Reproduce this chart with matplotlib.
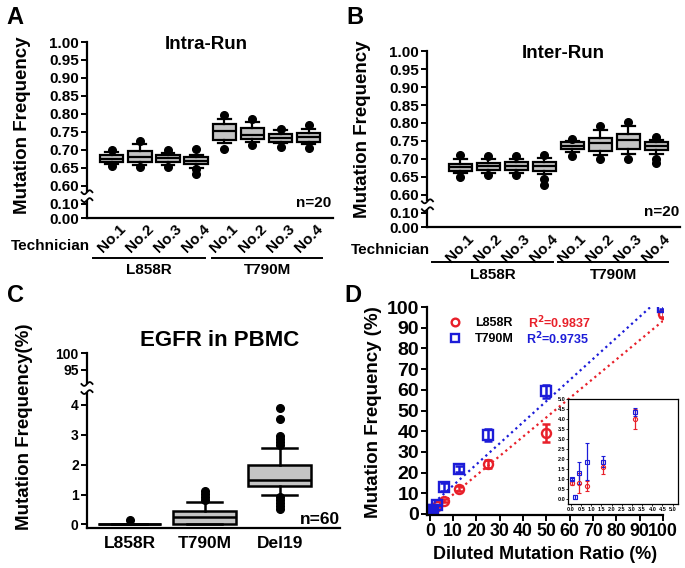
import numpy as np
import matplotlib.pyplot as plt
from matplotlib.patches import Rectangle
from matplotlib.transforms import blended_transform_factory

plt.rcParams['font.family'] = ['Liberation Sans', 'DejaVu Sans']
plt.rcParams['font.weight'] = 'bold'
plt.rcParams['axes.labelweight'] = 'bold'
plt.rcParams['axes.titleweight'] = 'bold'
plt.rcParams['axes.linewidth'] = 1.6

# ---- data ----
tech_labels = ['No.1', 'No.2', 'No.3', 'No.4'] * 2
groups = ['L858R', 'T790M']

# panel A: intra-run (4 technicians x L858R, T790M)
intra_lo = [0.660, 0.657, 0.657, 0.650, 0.718, 0.722, 0.718, 0.715]
intra_q1 = [0.667, 0.665, 0.667, 0.660, 0.728, 0.729, 0.722, 0.722]
intra_med = [0.675, 0.680, 0.676, 0.669, 0.752, 0.742, 0.734, 0.736]
intra_q3 = [0.686, 0.697, 0.685, 0.679, 0.771, 0.761, 0.744, 0.748]
intra_hi = [0.693, 0.716, 0.692, 0.687, 0.786, 0.778, 0.755, 0.759]
intra_fliers = [[0.700, 0.655], [0.724, 0.653], [0.700, 0.652], [0.702, 0.648, 0.632],
                [0.796, 0.702], [0.785, 0.714], [0.759, 0.708], [0.770, 0.704]]

# panel B: inter-run
inter_lo = [0.661, 0.660, 0.660, 0.659, 0.720, 0.710, 0.715, 0.713]
inter_q1 = [0.667, 0.668, 0.668, 0.667, 0.729, 0.722, 0.729, 0.724]
inter_med = [0.678, 0.680, 0.680, 0.680, 0.736, 0.743, 0.752, 0.736]
inter_q3 = [0.687, 0.690, 0.692, 0.692, 0.746, 0.759, 0.770, 0.747]
inter_hi = [0.701, 0.700, 0.700, 0.702, 0.749, 0.780, 0.793, 0.752]
inter_fliers = [[0.710, 0.650], [0.708, 0.655], [0.708, 0.655], [0.712, 0.645, 0.627],
                [0.756, 0.708], [0.791, 0.700], [0.803, 0.700], [0.761, 0.700, 0.690]]

# panel C: EGFR in PBMC (%)
pbmc_labels = ['L858R', 'T790M', 'Del19']
pbmc_lo = [0.0, 0.0, 0.99]
pbmc_q1 = [0.0, 0.0, 1.27]
pbmc_med = [0.0, 0.26, 1.49]
pbmc_q3 = [0.0, 0.46, 1.97]
pbmc_hi = [0.0, 0.76, 2.56]
pbmc_fliers = [[0.15], [0.82, 0.90, 1.02, 1.12],
               [2.67, 2.75, 2.84, 2.96, 3.52, 3.89, 0.90, 0.80, 0.70, 0.60, 0.52]]

# panel D: dilution series
l858r_x = [100, 50, 25, 12.5, 6.25, 3.125, 1.5625, 0.78, 0.39, 0.05]
l858r_y = [96.8, 39.2, 24.2, 12.3, 6.5, 4.0, 1.62, 0.65, 0.78, 0.80]
l858r_err = [1.5, 4.5, 2.0, 1.0, 0.8, 0.5, 0.35, 0.25, 0.5, 0.1]
t790m_x = [100, 50, 25, 12.5, 6.25, 3.125, 1.5625, 0.78, 0.39, 0.195, 0.05]
t790m_y = [100.2, 59.3, 38.3, 21.8, 13.0, 4.35, 1.88, 1.88, 1.30, 0.12, 1.0]
t790m_err = [1.0, 3.0, 3.0, 1.5, 2.0, 0.2, 0.3, 0.95, 0.55, 0.1, 0.05]
red = '#e8202a'
blue = '#1c1cd8'


def make_stats(lo, q1, med, q3, hi, fl):
    return [dict(whislo=a, q1=b, med=c, q3=d, whishi=e, fliers=f)
            for a, b, c, d, e, f in zip(lo, q1, med, q3, hi, fl)]


def draw_boxes(ax, stats, pos, width, lw, ms):
    ax.bxp(stats, positions=pos, widths=width, patch_artist=True, showfliers=True,
           capwidths=width * 0.55,
           boxprops=dict(facecolor='#c4c4c4', edgecolor='black', linewidth=lw),
           medianprops=dict(color='black', linewidth=lw),
           whiskerprops=dict(color='black', linewidth=lw),
           capprops=dict(color='black', linewidth=lw),
           flierprops=dict(marker='o', markerfacecolor='black', markeredgecolor='black',
                           markersize=ms))


def axis_break(ax, y0, y1, amp):
    tr = blended_transform_factory(ax.transAxes, ax.transData)
    ax.add_patch(Rectangle((-0.03, y0), 0.06, y1 - y0, transform=tr, facecolor='white',
                           edgecolor='none', clip_on=False, zorder=5))
    t = np.linspace(-1, 1, 30)
    for yy in (y0, y1):
        ax.plot(0.022 * t, yy + amp * np.sin(np.pi * t), transform=tr, color='black',
                lw=1.3, clip_on=False, zorder=6)


def fwd_ab(v):
    return np.interp(v, [-1, 0, 0.1, 0.6, 1.0, 2.0], [-8, 0, 0.8, 1.8, 9.8, 29.8])


def inv_ab(p):
    return np.interp(p, [-8, 0, 0.8, 1.8, 9.8, 29.8], [-1, 0, 0.1, 0.6, 1.0, 2.0])


def fwd_c(v):
    return np.interp(v, [-1, 0, 4, 95, 100, 200], [-1, 0, 4, 5.17, 5.72, 16.72])


def inv_c(p):
    return np.interp(p, [-1, 0, 4, 5.17, 5.72, 16.72], [-1, 0, 4, 95, 100, 200])


fig = plt.figure(figsize=(6.85, 5.68), dpi=100)

ab_ticks = [0.0, 0.1, 0.6, 0.65, 0.7, 0.75, 0.8, 0.85, 0.9, 0.95, 1.0]


def panel_ab(rect, lo, q1, med, q3, hi, fl, xlim, title, title_x, lab_x, lab_y,
             grp_y, tech_xy, grp_spans):
    ax = fig.add_axes(rect)
    ax.set_yscale('function', functions=(fwd_ab, inv_ab))
    pos = np.arange(1, 9)
    draw_boxes(ax, make_stats(lo, q1, med, q3, hi, fl), pos, 0.83, 1.6, 5.5)
    ax.set_ylim(0, 1.0)
    ax.set_xlim(*xlim)
    ax.set_yticks(ab_ticks)
    ax.set_yticklabels(['%.2f' % v for v in ab_ticks], fontsize=11)
    ax.set_xticks(pos)
    ax.set_xticklabels(tech_labels, rotation=45, ha='center', va='top', fontsize=11)
    ax.tick_params(axis='x', length=0, pad=3)
    ax.tick_params(axis='y', length=4, width=1.4, pad=2)
    for s in ('top', 'right'):
        ax.spines[s].set_visible(False)
    ax.set_ylabel('Mutation Frequency', fontsize=13.5)
    ax.yaxis.set_label_coords(lab_x, lab_y)
    ax.text(title_x, 0.985, title, transform=ax.transAxes, ha='center', va='center',
            fontsize=13.5)
    ax.text(0.995, 0.087, 'n=20', transform=ax.transAxes, ha='right', va='center', fontsize=11)
    axis_break(ax, 0.2, 0.42, 0.055)
    tr = blended_transform_factory(ax.transData, ax.transAxes)
    for g, (x0, x1) in zip(groups, grp_spans):
        ax.plot([x0, x1], [grp_y, grp_y], transform=tr, color='black', lw=1.4, clip_on=False)
        ax.text((x0 + x1) / 2, grp_y - 0.07, g, transform=tr, ha='center', va='center',
                fontsize=11)
    fig.text(tech_xy[0], tech_xy[1], 'Technician', ha='right', va='center', fontsize=11)
    return ax


axA = panel_ab([0.127, 0.616, 0.359, 0.310], intra_lo, intra_q1, intra_med, intra_q3, intra_hi,
               intra_fliers, (0.12, 8.86), 'Intra-Run', 0.483, -0.228, 0.53,
               grp_y=-0.227, tech_xy=(90 / 685, 1 - 246 / 568),
               grp_spans=[(0.33, 4.32), (4.57, 8.48)])
axB = panel_ab([0.624, 0.600, 0.369, 0.310], inter_lo, inter_q1, inter_med, inter_q3, inter_hi,
               inter_fliers, (-0.17, 8.86), 'Inter-Run', 0.538, -0.222, 0.556,
               grp_y=-0.199, tech_xy=(430 / 685, 1 - 250 / 568),
               grp_spans=[(-0.01, 4.31), (4.51, 8.44)])

# ---- panel C ----
axC = fig.add_axes([0.127, 0.0704, 0.369, 0.3076])
axC.set_yscale('function', functions=(fwd_c, inv_c))
draw_boxes(axC, make_stats(pbmc_lo, pbmc_q1, pbmc_med, pbmc_q3, pbmc_hi, pbmc_fliers),
           [1, 2, 3], 0.84, 1.8, 5.5)
axC.set_ylim(-0.12, 100)
axC.set_xlim(0.43, 3.8)
c_ticks = [0, 1, 2, 3, 4, 95, 100]
axC.set_yticks(c_ticks)
axC.set_yticklabels([str(v) for v in c_ticks], fontsize=10)
axC.set_xticks([1, 2, 3])
axC.set_xticklabels(pbmc_labels, fontsize=12.5)
axC.tick_params(axis='x', length=0, pad=6)
axC.tick_params(axis='y', length=4, width=1.4, pad=2)
for s in ('top', 'right'):
    axC.spines[s].set_visible(False)
axC.set_ylabel('Mutation Frequency(%)', fontsize=13.5)
axC.yaxis.set_label_coords(-0.213, 0.58)
axC.text(0.526, 1.076, 'EGFR in PBMC', transform=axC.transAxes, ha='center', va='center',
         fontsize=16)
axC.text(1.0, 0.05, 'n=60', transform=axC.transAxes, ha='right', va='center', fontsize=12.5)
axis_break(axC, 37, 58, 5.0)

# ---- panel D ----
axD = fig.add_axes([0.624, 0.0933, 0.344, 0.366])
for xs, ys, es, c, m, lab in [(l858r_x, l858r_y, l858r_err, red, 'o', 'L858R'),
                              (t790m_x, t790m_y, t790m_err, blue, 's', 'T790M')]:
    k, b = np.polyfit(xs, ys, 1)
    xx = np.array([0, 100])
    axD.plot(xx, k * xx + b, color=c, lw=1.6, ls=(0, (1, 1.6)))
    axD.errorbar(xs, ys, yerr=es, fmt='none', ecolor=c, elinewidth=1.8, capsize=3, capthick=1.8)
    axD.plot(xs, ys, ls='none', marker=m, mfc='none', mec=c, mew=1.7, ms=6.5, label=lab)
axD.set_xlim(-1, 100)
axD.set_ylim(-0.5, 100)
axD.set_xticks(np.arange(0, 101, 10))
axD.set_yticks(np.arange(0, 101, 10))
axD.tick_params(labelsize=14, length=4, width=1.4, pad=2)
axD.tick_params(axis='x', labelsize=12.8)
for s in ('top', 'right'):
    axD.spines[s].set_visible(False)
axD.set_xlabel('Diluted Mutation Ratio (%)', fontsize=13)
axD.set_ylabel('Mutation Frequency (%)', fontsize=13.5)
axD.yaxis.set_label_coords(-0.193, 0.497)
axD.legend(loc='upper left', bbox_to_anchor=(0.07, 0.975), frameon=False, fontsize=9,
           handlelength=1.0, handletextpad=1.1, labelspacing=0.3, borderaxespad=0,
           markerscale=0.85)
axD.text(0.428, 0.923, 'R$^2$=0.9837', color=red, transform=axD.transAxes, va='center',
         fontsize=9)
axD.text(0.418, 0.849, 'R$^2$=0.9735', color=blue, transform=axD.transAxes, va='center',
         fontsize=9)

# inset
axI = fig.add_axes([0.8297, 0.1127, 0.1606, 0.1843])
axI.errorbar(l858r_x, l858r_y, yerr=l858r_err, fmt='o', color=red, mfc='none', mec=red, ms=3,
             mew=0.8, elinewidth=0.9, capsize=1.5, capthick=0.9)
axI.errorbar(t790m_x, t790m_y, yerr=t790m_err, fmt='s', color=blue, mfc='none', mec=blue, ms=3,
             mew=0.8, elinewidth=0.9, capsize=1.5, capthick=0.9)
axI.set_xlim(-0.13, 5.28)
axI.set_ylim(-0.25, 5.0)
inset_ticks = np.arange(0, 5.01, 0.5)
axI.set_xticks(inset_ticks)
axI.set_yticks(inset_ticks)
axI.set_xticklabels(['%.1f' % v for v in inset_ticks])
axI.set_yticklabels(['%.1f' % v for v in inset_ticks])
axI.tick_params(labelsize=4, length=1.2, width=0.6, pad=1)
for s in axI.spines.values():
    s.set_linewidth(0.9)

for lbl, (x, y) in zip('ABCD', [(15, 17), (355, 17), (15, 296), (353, 296)]):
    fig.text(x / 685, 1 - y / 568, lbl, fontsize=17, ha='center', va='center')

fig.savefig('out.png', dpi=100)
